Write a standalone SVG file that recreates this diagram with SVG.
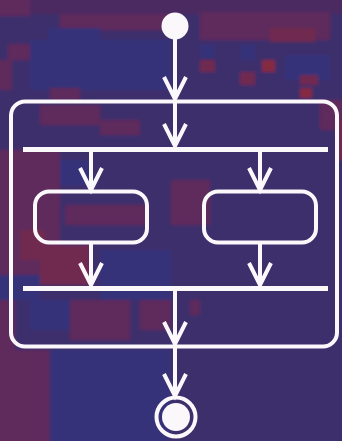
<svg xmlns="http://www.w3.org/2000/svg" width="342" height="441" viewBox="0 0 342 441">
  <style>
    .bl { fill: #36307a; }
    .pu { fill: #4b2c62; }
    .rd { fill: #5f2a5c; }
    .rr { fill: #70294f; }
    .br { fill: #862943; }
    .ln { fill: none; stroke: #fbf8fb; stroke-width: 4; }
    .fill { fill: #fbf8fb; }
    .bar { fill: #fbf8fb; }
  </style>
  <defs>
    <marker id="head" markerUnits="userSpaceOnUse" orient="auto" refX="0" refY="0"
            markerWidth="30" markerHeight="30" viewBox="-26 -15 30 30" overflow="visible">
      <path d="M-22,-11 L0,0 L-22,11" fill="none" stroke="#fbf8fb" stroke-width="4" stroke-linejoin="miter"/>
    </marker>
    <filter id="soft" x="-5%" y="-5%" width="110%" height="110%">
      <feGaussianBlur stdDeviation="1.6"/>
    </filter>
  </defs>

  <!-- mosaic backdrop -->
  <g id="backdrop" filter="url(#soft)">
    <rect x="-10" y="-10" width="362" height="461" fill="#3e2e6c"/>
    <rect class="pu" x="-10" y="-10" width="362" height="24"/>
    <rect class="rd" x="-10" y="-10" width="40" height="26"/>
    <rect class="rd" x="60" y="14" width="111" height="16"/>
    <rect class="rd" x="200" y="12" width="130" height="28"/>
    <rect class="rr" x="270" y="28" width="45" height="14"/>
    <rect class="rd" x="8" y="44" width="22" height="16"/>
    <rect class="bl" x="48" y="28" width="52" height="32"/>
    <rect class="bl" x="30" y="40" width="140" height="50"/>
    <rect class="rd" x="-10" y="60" width="22" height="30"/>
    <rect class="rd" x="50" y="88" width="30" height="12"/>
    <rect class="bl" x="200" y="45" width="15" height="13"/>
    <rect class="bl" x="240" y="45" width="15" height="15"/>
    <rect class="bl" x="285" y="55" width="45" height="25"/>
    <rect class="rr" x="200" y="60" width="15" height="12"/>
    <rect class="rr" x="240" y="72" width="15" height="13"/>
    <rect class="br" x="262" y="60" width="13" height="12"/>
    <rect class="rr" x="300" y="75" width="18" height="10"/>
    <rect class="br" x="300" y="88" width="12" height="10"/>
    <rect class="rd" x="40" y="105" width="60" height="20"/>
    <rect class="rd" x="100" y="120" width="40" height="15"/>
    <rect class="rd" x="320" y="100" width="32" height="30"/>
    <rect class="rr" x="337" y="120" width="15" height="40"/>
    <rect class="rd" x="-10" y="150" width="70" height="125"/>
    <rect class="rr" x="20" y="230" width="25" height="30"/>
    <rect class="bl" x="60" y="160" width="30" height="25"/>
    <rect class="rd" x="65" y="205" width="82" height="20"/>
    <rect class="rr" x="40" y="245" width="50" height="40"/>
    <rect class="bl" x="100" y="250" width="71" height="50"/>
    <rect class="bl" x="-10" y="275" width="50" height="25"/>
    <rect class="rd" x="171" y="180" width="39" height="45"/>
    <rect class="rd" x="-10" y="300" width="25" height="151"/>
    <rect class="bl" x="30" y="300" width="40" height="30"/>
    <rect class="rd" x="70" y="300" width="60" height="40"/>
    <rect class="rd" x="140" y="300" width="31" height="30"/>
    <rect class="rd" x="15" y="350" width="35" height="101"/>
    <rect class="bl" x="50" y="350" width="120" height="101"/>
    <rect class="rd" x="190" y="300" width="10" height="15"/>
  </g>

  <!-- composite state -->
  <g id="composite">
    <rect class="ln" x="11" y="101.5" width="326" height="245" rx="14" ry="14"/>
  </g>

  <!-- initial pseudostate -->
  <g id="initial">
    <circle class="fill" cx="175" cy="26" r="13.5"/>
  </g>

  <!-- fork and join bars -->
  <g id="fork">
    <rect class="bar" x="23" y="147" width="305" height="5"/>
  </g>
  <g id="join">
    <rect class="bar" x="23" y="286" width="305" height="5"/>
  </g>

  <!-- parallel states -->
  <g id="state-left">
    <rect class="ln" x="35" y="191.5" width="112" height="51" rx="14" ry="14"/>
  </g>
  <g id="state-right">
    <rect class="ln" x="204" y="191.5" width="112" height="51" rx="14" ry="14"/>
  </g>

  <!-- final state -->
  <g id="final">
    <circle class="ln" cx="176" cy="417" r="19.5"/>
    <circle class="fill" cx="176" cy="417" r="14"/>
  </g>

  <!-- transitions -->
  <g id="connectors" class="ln" marker-end="url(#head)">
    <line x1="175" y1="39" x2="175" y2="99"/>
    <line x1="175" y1="103" x2="175" y2="146"/>
    <line x1="91" y1="152" x2="91" y2="190"/>
    <line x1="260" y1="152" x2="260" y2="190"/>
    <line x1="91" y1="244" x2="91" y2="285"/>
    <line x1="260" y1="244" x2="260" y2="285"/>
    <line x1="175" y1="291" x2="175" y2="344"/>
    <line x1="175" y1="348" x2="175" y2="396"/>
  </g>
</svg>
